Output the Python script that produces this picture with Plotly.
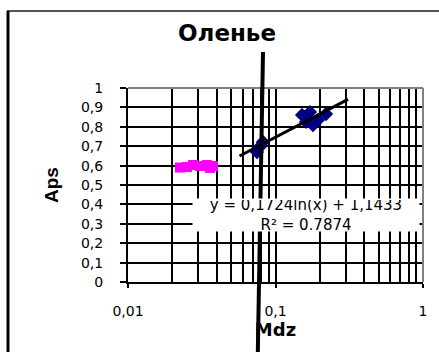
import numpy as np
import plotly.graph_objects as go

# Measurements: Mdz (log scale) vs Aps
mdz_pink = [0.0225, 0.0251, 0.0276, 0.0308, 0.0343, 0.0377, 0.0360]
aps_pink = [0.590, 0.593, 0.603, 0.598, 0.603, 0.598, 0.588]

mdz_blue = [0.0749, 0.0780, 0.0822, 0.1513, 0.1610, 0.1713, 0.1795, 0.1940, 0.2200]
aps_blue = [0.670, 0.696, 0.722, 0.861, 0.825, 0.876, 0.809, 0.835, 0.866]

# Logarithmic trend line y = a*ln(x) + b and its drawn extent
trend_a = 0.1724
trend_b = 1.1433
trend_r2 = 0.7874
trend_x = [0.057, 0.31]

x_major = [0.01, 0.1, 1]
x_major_text = ["0,01", "0,1", "1"]
x_minor = [0.02, 0.03, 0.04, 0.05, 0.06, 0.07, 0.08, 0.09,
           0.2, 0.3, 0.4, 0.5, 0.6, 0.7, 0.8, 0.9]
y_ticks = [0, 0.1, 0.2, 0.3, 0.4, 0.5, 0.6, 0.7, 0.8, 0.9, 1]
y_ticktext = ["0", "0,1", "0,2", "0,3", "0,4", "0,5", "0,6", "0,7", "0,8", "0,9", "1"]

trend_y = [trend_a * np.log(v) + trend_b for v in trend_x]

W, H = 439, 352
L, R, T, B = 128, 16, 88, 70
pw, ph = W - L - R, H - T - B


def px(x):
    return (x - L) / pw


def py(y):
    return (H - B - y) / ph


def dec(v, nd=4):
    return f"{v:.{nd}f}".replace(".", ",")


fig = go.Figure()
fig.add_trace(go.Scatter(x=mdz_pink, y=aps_pink, mode="markers",
                         marker=dict(symbol="square", size=10, color="#FF00FF"),
                         showlegend=False))
fig.add_trace(go.Scatter(x=mdz_blue, y=aps_blue, mode="markers",
                         marker=dict(symbol="diamond", size=11, color="#000080"),
                         showlegend=False))
fig.add_trace(go.Scatter(x=trend_x, y=trend_y, mode="lines",
                         line=dict(color="black", width=3), showlegend=False))

tick_font = dict(family="DejaVu Sans", size=14, color="black")

fig.update_xaxes(type="log", range=[-2, 0], tickvals=x_major, ticktext=x_major_text,
                 ticks="outside", ticklen=4, tickwidth=2, tickcolor="black",
                 tickfont=tick_font, ticklabelstandoff=11,
                 showgrid=True, gridcolor="black", gridwidth=2,
                 minor=dict(tickvals=x_minor, showgrid=True, gridcolor="black",
                            gridwidth=2, ticks=""),
                 showline=True, linecolor="black", linewidth=2, zeroline=False,
                 title=dict(text="<b>Mdz</b>", standoff=6,
                            font=dict(family="DejaVu Sans", size=18, color="black")))
fig.update_yaxes(range=[0, 1], tickvals=y_ticks, ticktext=y_ticktext,
                 ticks="outside", ticklen=6, tickwidth=2, tickcolor="black",
                 tickfont=tick_font, ticklabelstandoff=14,
                 showgrid=True, gridcolor="black", gridwidth=2,
                 showline=True, linecolor="black", linewidth=2, zeroline=False,
                 title=dict(text="<b>Aps</b>", standoff=17,
                            font=dict(family="Liberation Sans", size=19, color="black")))

eq = f"y = {dec(trend_a)}ln(x) + {dec(trend_b)}<br>R² = {dec(trend_r2)}"
fig.add_annotation(x=px(306), y=py(232), xref="paper", yref="paper",
                   text=eq, showarrow=False, bgcolor="white",
                   width=224, height=30, align="center",
                   font=dict(family="DejaVu Sans", size=15, color="black"))

shapes = [
    # plot-area frame, top and right
    dict(type="line", xref="paper", yref="paper", x0=0, x1=1, y0=1, y1=1,
         line=dict(color="#808080", width=2), layer="above"),
    dict(type="line", xref="paper", yref="paper", x0=1, x1=1, y0=0, y1=1,
         line=dict(color="#808080", width=2), layer="above"),
    # outer chart frame
    dict(type="line", xref="paper", yref="paper", x0=px(7), x1=px(440), y0=py(11), y1=py(11),
         line=dict(color="#555555", width=2)),
    dict(type="line", xref="paper", yref="paper", x0=px(8), x1=px(8), y0=py(11), y1=py(353),
         line=dict(color="black", width=3)),
    # heavy vertical stroke across the chart
    dict(type="line", xref="paper", yref="paper", x0=px(263), x1=px(257.8), y0=py(52), y1=py(353),
         line=dict(color="black", width=4), layer="above"),
]

fig.update_layout(
    width=W, height=H,
    margin=dict(l=L, r=R, t=T, b=B),
    paper_bgcolor="white", plot_bgcolor="white",
    title=dict(text="<b>Оленье</b>", x=227 / W, xanchor="center",
               y=1 - 33 / H, yanchor="middle",
               font=dict(family="DejaVu Sans", size=23, color="black")),
    shapes=shapes,
)

fig.write_html("out.html")
